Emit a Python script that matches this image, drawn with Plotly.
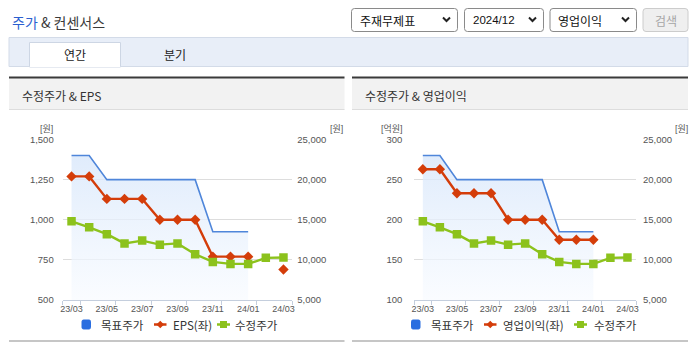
import plotly.graph_objects as go

# ---- data -------------------------------------------------------------
months = ["23/03", "23/04", "23/05", "23/06", "23/07", "23/08", "23/09",
          "23/10", "23/11", "23/12", "24/01", "24/02", "24/03"]
target_price = [23000, 23000, 20000, 20000, 20000, 20000, 20000, 20000,
                13500, 13500, 13500, None, None]
adj_price = [14800, 14050, 13200, 12050, 12400, 11900, 12050, 10700,
             9750, 9500, 9500, 10250, 10300]
eps = [1270, 1270, 1130, 1130, 1130, 1000, 1000, 1000,
       770, 770, 770, None, 690]
op_profit = [263, 263, 233, 233, 233, 200, 200, 200,
             175, 175, 175, None, None]

x_idx = list(range(len(months)))
label_idx = x_idx[::2]
label_txt = months[::2]

# ---- page geometry helpers (pixel -> paper) ---------------------------
W, H = 695, 349


def px(x):
    return x / W


def py(y):
    return 1 - y / H


KR = "Noto Sans CJK KR"
NUM = "Liberation Sans, Noto Sans CJK KR"

BLUE = "#4f86da"
RED = "#d43d0a"
GREEN = "#8cc21c"

fig = go.Figure()

panels = [
    dict(xa="x", ya="y", ya_l="y2", ya_g="y3", left=eps),
    dict(xa="x2", ya="y4", ya_l="y5", ya_g="y6", left=op_profit),
]

for p in panels:
    fig.add_trace(go.Scatter(
        x=x_idx, y=target_price, xaxis=p["xa"], yaxis=p["ya"],
        mode="lines", line=dict(color=BLUE, width=1.6),
        fill="tozeroy",
        fillgradient=dict(type="vertical", start=5000, stop=23000,
                          colorscale=[[0, "rgba(248,251,255,0.7)"],
                                      [1, "rgba(216,231,251,0.8)"]]),
        connectgaps=False, hoverinfo="skip", showlegend=False))
    fig.add_trace(go.Scatter(
        x=x_idx, y=p["left"], xaxis=p["xa"], yaxis=p["ya_l"],
        mode="lines+markers", line=dict(color=RED, width=2.4),
        marker=dict(symbol="diamond", size=8, color=RED),
        connectgaps=False, showlegend=False))
    fig.add_trace(go.Scatter(
        x=x_idx, y=adj_price, xaxis=p["xa"], yaxis=p["ya_g"],
        mode="lines+markers", line=dict(color=GREEN, width=2.4),
        marker=dict(symbol="square", size=8.5, color=GREEN),
        showlegend=False))

ydom = [py(300), py(139.5)]
minor_ticks = [-0.5] + [i + 0.5 for i in range(0, 12, 2)] + [12.5]


def xaxis_cfg(x0, x1, anchor):
    return dict(domain=[px(x0), px(x1)], range=[-0.5, 12.5], anchor=anchor,
                tickmode="array", tickvals=label_idx, ticktext=label_txt,
                ticks="", showgrid=False, zeroline=False,
                showline=True, linecolor="#c4cedd", linewidth=1,
                minor=dict(tickmode="array", tickvals=minor_ticks,
                           ticks="outside", ticklen=4, tickcolor="#c4cedd",
                           showgrid=False),
                tickfont=dict(family=NUM, size=9, color="#555"),
                automargin=False, fixedrange=True)


def price_axis(anchor, standoff):
    return dict(domain=ydom, range=[5000, 25000], dtick=5000, tick0=5000,
                tickformat=",", side="right", anchor=anchor,
                gridcolor="#dddddd", gridwidth=1, zeroline=False,
                showline=False, ticks="", ticklabelstandoff=standoff,
                tickfont=dict(family=NUM, size=9.5, color="#555"),
                automargin=False, fixedrange=True)


def left_axis(base, anchor, rng, dtick, standoff):
    return dict(overlaying=base, side="left", anchor=anchor, range=rng,
                dtick=dtick, tick0=rng[0], tickformat=",", showgrid=False,
                zeroline=False, showline=False, ticks="",
                ticklabelstandoff=standoff,
                tickfont=dict(family=NUM, size=9.5, color="#555"),
                automargin=False, fixedrange=True)


def hidden_axis(base, anchor):
    return dict(overlaying=base, anchor=anchor, range=[5000, 25000],
                visible=False, fixedrange=True)


fig.update_layout(
    xaxis=xaxis_cfg(62.7, 292.3, "y"),
    yaxis=price_axis("x", 4),
    yaxis2=left_axis("y", "x", [500, 1500], 250, 8),
    yaxis3=hidden_axis("y", "x"),
    xaxis2=xaxis_cfg(414.3, 636, "y4"),
    yaxis4=price_axis("x2", 6),
    yaxis5=left_axis("y4", "x2", [100, 300], 50, 11),
    yaxis6=hidden_axis("y4", "x2"),
)

# ---- page furniture ---------------------------------------------------
shapes = []
annots = []


def rect(x0, y0, x1, y1, fill=None, line=None, lw=1):
    shapes.append(dict(type="rect", xref="paper", yref="paper",
                       x0=px(x0), x1=px(x1), y0=py(y1), y1=py(y0),
                       fillcolor=fill or "rgba(0,0,0,0)",
                       line=dict(color=line or "rgba(0,0,0,0)",
                                 width=lw if line else 0)))


def hline(x0, x1, y, color, lw):
    shapes.append(dict(type="line", xref="paper", yref="paper",
                       x0=px(x0), x1=px(x1), y0=py(y), y1=py(y),
                       line=dict(color=color, width=lw)))


def path(pts, color, lw=0, fill=None, closed=False):
    d = "M " + " L ".join(f"{px(a):.5f},{py(b):.5f}" for a, b in pts)
    if closed:
        d += " Z"
    shapes.append(dict(type="path", xref="paper", yref="paper", path=d,
                       fillcolor=fill or "rgba(0,0,0,0)",
                       line=dict(color=color, width=lw)))


def rounded(x0, y0, x1, y1, r, fill, line):
    def P(a, b):
        return f"{px(a):.5f},{py(b):.5f}"
    d = (f"M {P(x0 + r, y0)} L {P(x1 - r, y0)} Q {P(x1, y0)} {P(x1, y0 + r)} "
         f"L {P(x1, y1 - r)} Q {P(x1, y1)} {P(x1 - r, y1)} "
         f"L {P(x0 + r, y1)} Q {P(x0, y1)} {P(x0, y1 - r)} "
         f"L {P(x0, y0 + r)} Q {P(x0, y0)} {P(x0 + r, y0)} Z")
    shapes.append(dict(type="path", xref="paper", yref="paper", path=d,
                       fillcolor=fill, line=dict(color=line, width=1)))


def text(x, y, s, size=12, color="#333", anchor="left", family=KR):
    annots.append(dict(xref="paper", yref="paper", x=px(x), y=py(y),
                       text=s, showarrow=False, xanchor=anchor,
                       yanchor="middle",
                       font=dict(family=family, size=size, color=color)))


# title
text(9.5, 22.5, "<span style='color:#2b5fd0'>주가</span> & 컨센서스",
     size=14, color="#3a3a3a")

# selectors
for (x0, x1, label, fam, sz) in [(351, 457.5, "주재무제표", KR, 12),
                                 (464, 543.5, "2024/12", NUM, 11.5),
                                 (549.5, 636.5, "영업이익", KR, 12)]:
    rounded(x0 + 0.5, 8.5, x1, 31.5, 3, "white", "#8a8a8a")
    text(x0 + 6.5, 20, label, size=sz, color="#111", family=fam)
    cx = x1 - 11
    path([(cx - 3.5, 17.5), (cx, 21), (cx + 3.5, 17.5)], "#222", lw=2)
rounded(643, 8.5, 688, 31.5, 3, "#efefef", "#cccccc")
text(665.5, 20, "검색", size=12, color="#a6a6a6", anchor="center")

# tab strip
rect(9, 37.5, 688, 66.5, fill="#e8eef8", line="#d3dbe8")
rect(29.5, 42.5, 120.5, 67, fill="white", line="#cdd6e4")
hline(9, 688, 66.5, "#d3dbe8", 1)
shapes.append(dict(type="line", xref="paper", yref="paper",
                   x0=px(30), x1=px(120), y0=py(66.5), y1=py(66.5),
                   line=dict(color="white", width=1)))
text(75, 54.5, "연간", size=12, color="#222", anchor="center")
text(175, 54.5, "분기", size=12, color="#222", anchor="center")

# chart panels
for (x0, x1, title) in [(9, 344.5, "수정주가 & EPS"),
                        (352, 688, "수정주가 & 영업이익")]:
    rect(x0, 78, x1, 109.5, fill="#f2f2f2")
    hline(x0, x1, 109.5, "#dddddd", 1)
    hline(x0, x1, 77.5, "#3a3a3a", 2)
    hline(x0, x1, 341, "#c6c6c6", 2)
    text(x0 + 11, 95.5, title, size=12, color="#333")

# axis unit labels
text(54.5, 129, "[원]", size=9, color="#555", anchor="right", family=NUM)
text(328, 129, "[원]", size=9, color="#555", family=NUM)
text(405, 129, "[억원]", size=9, color="#555", anchor="right", family=NUM)
text(673, 129, "[원]", size=9, color="#555", family=NUM)

# legends
LY = 324.5
for (bx, t1x, rx, t2x, red_label, gx, t3x) in [
        (82, 98.5, 154, 171, "EPS(좌)", 217, 233),
        (411.5, 428.5, 484, 501, "영업이익(좌)", 574, 591.5)]:
    rounded(bx, 320, bx + 8.5, 329, 1.5, "#2a6ee0", "#2a6ee0")
    text(t1x, LY, "목표주가", size=11.5, color="#333")
    hline(rx, rx + 12.5, LY, RED, 2.5)
    c = rx + 6.25
    path([(c, LY - 3.8), (c + 3.8, LY), (c, LY + 3.8), (c - 3.8, LY)],
         RED, lw=0, fill=RED, closed=True)
    text(t2x, LY, red_label, size=11.5, color="#333")
    hline(gx, gx + 13, LY, GREEN, 2.5)
    g = gx + 6.5
    rect(g - 3.5, LY - 3.5, g + 3.5, LY + 3.5, fill=GREEN)
    text(t3x, LY, "수정주가", size=11.5, color="#333")

fig.update_layout(
    width=W, height=H, autosize=False,
    margin=dict(l=0, r=0, t=0, b=0, pad=0, autoexpand=False),
    paper_bgcolor="white", plot_bgcolor="white",
    showlegend=False, shapes=shapes, annotations=annots,
    font=dict(family=KR),
)

fig.write_html("out.html", config={"displayModeBar": False})
